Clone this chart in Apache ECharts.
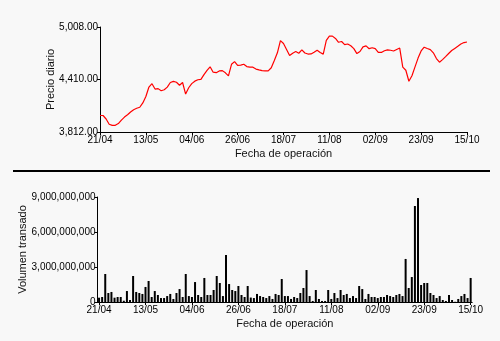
<!DOCTYPE html>
<html>
<head>
<meta charset="utf-8">
<script src="https://cdn.jsdelivr.net/npm/echarts@6/dist/echarts.min.js"></script>
<style>
  html, body { margin: 0; padding: 0; background: #f8f8f8; }
  #chart { width: 500px; height: 341px; }
</style>
</head>
<body>
<div id="chart"></div>
<script>
// Trading-day axis labels (one every 15 sessions)
const tickLabels = ['21/04', '13/05', '04/06', '26/06', '18/07', '11/08', '02/09', '23/09', '15/10'];

// Daily closing price
const price = [
  4000, 4000, 3960, 3901, 3887, 3888, 3908, 3948, 3982, 4008,
  4040, 4066, 4082, 4094, 4143, 4217, 4324, 4362, 4301, 4306,
  4282, 4293, 4323, 4376, 4388, 4379, 4345, 4376, 4244, 4316,
  4363, 4391, 4407, 4411, 4466, 4513, 4555, 4493, 4488, 4508,
  4511, 4486, 4451, 4583, 4614, 4572, 4574, 4584, 4557, 4550,
  4550, 4529, 4520, 4512, 4508, 4509, 4544, 4627, 4714, 4853,
  4820, 4752, 4684, 4710, 4728, 4709, 4747, 4712, 4700, 4701,
  4721, 4744, 4718, 4699, 4855, 4903, 4904, 4878, 4834, 4843,
  4808, 4814, 4795, 4762, 4705, 4729, 4782, 4793, 4761, 4772,
  4761, 4720, 4718, 4738, 4748, 4743, 4735, 4752, 4768, 4551,
  4515, 4390, 4453, 4554, 4654, 4735, 4778, 4763, 4751, 4714,
  4649, 4607, 4636, 4670, 4706, 4740, 4764, 4788, 4815, 4831,
  4837
];

// Daily traded volume
const volume = [
  370000000, 430000000, 2400000000, 770000000, 860000000, 370000000, 430000000, 430000000, 110000000, 940000000,
  170000000, 2230000000, 860000000, 770000000, 690000000, 1290000000, 1800000000, 430000000, 940000000, 600000000,
  340000000, 340000000, 510000000, 690000000, 260000000, 770000000, 1110000000, 430000000, 2400000000, 510000000,
  430000000, 1710000000, 600000000, 430000000, 2060000000, 600000000, 600000000, 1030000000, 2230000000, 1630000000,
  510000000, 4030000000, 1540000000, 1030000000, 940000000, 1370000000, 600000000, 430000000, 1370000000, 380000000,
  340000000, 690000000, 510000000, 430000000, 340000000, 510000000, 260000000, 690000000, 600000000, 1970000000,
  510000000, 510000000, 260000000, 430000000, 340000000, 770000000, 1200000000, 2740000000, 510000000, 90000000,
  1030000000, 260000000, 90000000, 90000000, 1030000000, 260000000, 770000000, 340000000, 1030000000, 600000000,
  690000000, 340000000, 510000000, 340000000, 1370000000, 1110000000, 260000000, 690000000, 430000000, 430000000,
  340000000, 430000000, 430000000, 600000000, 510000000, 430000000, 600000000, 690000000, 510000000, 3690000000,
  1200000000, 2140000000, 8230000000, 8910000000, 1460000000, 1630000000, 1630000000, 770000000, 600000000, 340000000,
  510000000, 170000000, 90000000, 600000000, 170000000, 20000000, 260000000, 510000000, 690000000, 340000000,
  2060000000
];

const priceTicks = [3812, 4410, 5008];
const volumeTicks = [0, 3000000000, 6000000000, 9000000000];

const categories = price.map((_, i) => (i % 15 === 0 ? tickLabels[i / 15] : ''));

const FONT = '"Liberation Sans", Arial, sans-serif';
const axisLine = { show: true, lineStyle: { color: '#000', width: 1 } };
const labelStyle = { color: '#000', fontSize: 10, fontFamily: FONT };
const nameStyle = { color: '#111', fontSize: 11, fontFamily: FONT };

const chart = echarts.init(document.getElementById('chart'), null, { renderer: 'canvas' });

chart.setOption({
  animation: false,
  backgroundColor: '#f8f8f8',
  grid: [
    { left: 100, right: 33, top: 27, bottom: 209 },
    { left: 97.5, right: 27.8, top: 197, bottom: 39 }
  ],
  xAxis: [
    {
      type: 'category', gridIndex: 0, data: categories, boundaryGap: false,
      axisLine: axisLine,
      axisTick: { show: true, interval: 14, length: 3, lineStyle: { color: '#000' } },
      axisLabel: Object.assign({ interval: 14, margin: 3 }, labelStyle),
      name: 'Fecha de operación', nameLocation: 'middle', nameGap: 16, nameMoveOverlap: false,
      nameTextStyle: nameStyle
    },
    {
      type: 'category', gridIndex: 1, data: categories, boundaryGap: true,
      axisLine: axisLine,
      axisTick: { show: true, interval: 14, length: 3, alignWithLabel: true, lineStyle: { color: '#000' } },
      axisLabel: Object.assign({ interval: 14, margin: 3 }, labelStyle),
      name: 'Fecha de operación', nameLocation: 'middle', nameGap: 16, nameMoveOverlap: false,
      nameTextStyle: nameStyle
    }
  ],
  yAxis: [
    {
      type: 'value', gridIndex: 0, min: 3812, max: 5008,
      axisLine: axisLine,
      axisTick: { show: true, length: 3, customValues: priceTicks, lineStyle: { color: '#000' } },
      axisLabel: Object.assign({
        margin: 2,
        customValues: priceTicks,
        formatter: v => v.toLocaleString('en-US', { minimumFractionDigits: 2, maximumFractionDigits: 2 })
      }, labelStyle),
      splitLine: { show: false },
      name: 'Precio diario', nameLocation: 'middle', nameGap: 44, nameMoveOverlap: false,
      nameTextStyle: nameStyle
    },
    {
      type: 'value', gridIndex: 1, min: volumeTicks[0], max: volumeTicks[3], interval: 3000000000,
      axisLine: axisLine,
      axisTick: { show: true, length: 3, lineStyle: { color: '#000' } },
      axisLabel: Object.assign({
        margin: 2,
        formatter: v => v.toLocaleString('en-US')
      }, labelStyle),
      splitLine: { show: false },
      name: 'Volumen transado', nameLocation: 'middle', nameGap: 69, nameMoveOverlap: false,
      nameTextStyle: nameStyle
    }
  ],
  series: [
    {
      type: 'line', xAxisIndex: 0, yAxisIndex: 0, data: price,
      showSymbol: false, lineStyle: { color: '#ff0000', width: 1.2 }, itemStyle: { color: '#ff0000' }
    },
    {
      type: 'bar', xAxisIndex: 1, yAxisIndex: 1, data: volume,
      barWidth: 2, itemStyle: { color: '#000' }
    }
  ],
  graphic: [
    {
      type: 'line', shape: { x1: 13, y1: 171, x2: 490, y2: 171 },
      style: { stroke: '#000', lineWidth: 2 }, silent: true
    }
  ]
});
</script>
</body>
</html>
